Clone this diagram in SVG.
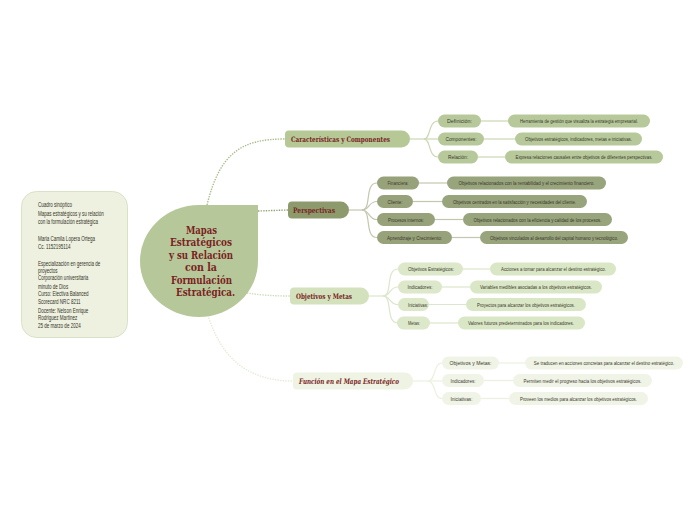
<svg xmlns="http://www.w3.org/2000/svg" width="696" height="520" viewBox="0 0 696 520">
<style>
.sm{font-family:"Liberation Sans",Arial,sans-serif;font-size:5.3px;fill:#3a382c;text-anchor:middle}
.mb{font-family:"DejaVu Serif","Liberation Serif",serif;font-size:7.5px;font-weight:bold;fill:#7a2525}
.ct{font-family:"DejaVu Serif","Liberation Serif",serif;font-size:10.5px;font-weight:bold;fill:#7a2222;text-anchor:middle}
.lb{font-family:"Liberation Sans",Arial,sans-serif;font-size:6.3px;fill:#333328}
.dot{fill:none;stroke-width:1.4;stroke-dasharray:1.4 1.2}
.ln{fill:none;stroke-width:1.2}
</style>
<rect width="696" height="520" fill="#ffffff"/>

<g id="connectors">
  <path class="dot" stroke="#a8bc8a" d="M207,205 C220,152 242,139 285,139"/>
  <path class="dot" stroke="#93a273" d="M258,211 L288,210"/>
  <path class="dot" stroke="#cddcb6" d="M247,293 Q266,296 290,296"/>
  <path class="dot" stroke="#e2ecd3" d="M208,315 C222,362 252,381 293,381"/>
  <g stroke="#cad7b3" class="ln">
    <path d="M410,139 H424"/>
    <path d="M424,139 C431,139 428,121 438,121"/>
    <path d="M424,139 H438"/>
    <path d="M424,139 C431,139 428,157 438,157"/>
    <path d="M481,121 H508"/>
    <path d="M484,139 H515"/>
    <path d="M478,157 H505"/>
  </g>
  <g stroke="#c3c7b0" class="ln">
    <path d="M349,210 H362"/>
    <path d="M362,210 C372,210 364,183 377,183"/>
    <path d="M362,210 C370,210 368,201.5 377,201.5"/>
    <path d="M362,210 C370,210 368,219.5 377,219.5"/>
    <path d="M362,210 C372,210 364,237.5 377,237.5"/>
    <path d="M419,183 H447"/>
    <path d="M413,201.5 H442"/>
    <path d="M435,219.5 H463"/>
    <path d="M452,237.5 H480"/>
  </g>
  <g stroke="#dce6cc" class="ln">
    <path d="M369,296 H383"/>
    <path d="M383,296 C393,296 385,269 398,269"/>
    <path d="M383,296 C391,296 389,287 398,287"/>
    <path d="M383,296 C391,296 389,304.5 398,304.5"/>
    <path d="M383,296 C393,296 385,323 398,323"/>
    <path d="M463,269 H490"/>
    <path d="M442,287 H470"/>
    <path d="M429,304.5 H466"/>
    <path d="M430,323 H458"/>
  </g>
  <g stroke="#ebf0e0" class="ln">
    <path d="M413,381 H428"/>
    <path d="M428,381 C436,381 433,363 442,363"/>
    <path d="M428,381 H442"/>
    <path d="M428,381 C436,381 433,398.5 442,398.5"/>
    <path d="M499,363 H525"/>
    <path d="M484,380.5 H513"/>
    <path d="M481,398.5 H509"/>
  </g>
</g>

<g id="info">
  <rect x="21.5" y="191.5" width="106" height="146" rx="15" fill="#eef1e0" stroke="#d9e2c7"/>
  <g transform="translate(38,0) scale(0.72,1)">
    <text class="lb" x="0" y="207">Cuadro sinóptico</text>
    <text class="lb" x="0" y="216">Mapas estratégicos y su relación</text>
    <text class="lb" x="0" y="224.5">con la formulación estratégica</text>
    <text class="lb" x="0" y="241">Maria Camila Lopera Ortega</text>
    <text class="lb" x="0" y="249.5">Cc. 1152195114</text>
    <text class="lb" x="0" y="266">Especialización en gerencia de</text>
    <text class="lb" x="0" y="273">proyectos</text>
    <text class="lb" x="0" y="280.5">Corporación universitaria</text>
    <text class="lb" x="0" y="289">minuto de Dios</text>
    <text class="lb" x="0" y="296.5">Curso: Electiva Balanced</text>
    <text class="lb" x="0" y="304.5">Scorecard NRC 8211</text>
    <text class="lb" x="0" y="313">Docente: Nelson Enrique</text>
    <text class="lb" x="0" y="320.5">Rodriguez Martinez</text>
    <text class="lb" x="0" y="328.5">25 de marzo de 2024</text>
  </g>
</g>

<g id="central">
  <path d="M258,205 V261 A59,56 0 0 1 199,317 A59,56 0 0 1 140,261 A59,56 0 0 1 199,205 Z" fill="#b6c89a"/>
  <text class="ct" x="201.5" y="233.5" textLength="31" lengthAdjust="spacingAndGlyphs">Mapas</text>
  <text class="ct" x="201" y="246" textLength="62" lengthAdjust="spacingAndGlyphs">Estratégicos</text>
  <text class="ct" x="201" y="258.5" textLength="64" lengthAdjust="spacingAndGlyphs">y su Relación</text>
  <text class="ct" x="201" y="271" textLength="32" lengthAdjust="spacingAndGlyphs">con la</text>
  <text class="ct" x="201.5" y="283.5" textLength="61" lengthAdjust="spacingAndGlyphs">Formulación</text>
  <text class="ct" x="205.5" y="296" textLength="59" lengthAdjust="spacingAndGlyphs">Estratégica.</text>
</g>

<g id="caracteristicas">
  <path d="M289,130.5 H401.5 A8.5,8.5 0 0 1 401.5,147.5 H289 A4,4 0 0 1 285,143.5 V134.5 A4,4 0 0 1 289,130.5 Z" fill="#b5c896"/>
  <text class="mb" x="291" y="141.8" textLength="99" lengthAdjust="spacingAndGlyphs">Características y Componentes</text>
</g>
<g id="c-definicion"><rect x="438" y="114.5" width="43" height="13" rx="6.5" fill="#b7c99b"/><text class="sm" x="459.5" y="123" textLength="25" lengthAdjust="spacingAndGlyphs">Definición:</text></g>
<g id="c-componentes"><rect x="438" y="132.5" width="46" height="13" rx="6.5" fill="#b7c99b"/><text class="sm" x="461" y="141" textLength="31" lengthAdjust="spacingAndGlyphs">Componentes:</text></g>
<g id="c-relacion"><rect x="438" y="150.5" width="40" height="13" rx="6.5" fill="#b7c99b"/><text class="sm" x="458" y="159" textLength="20" lengthAdjust="spacingAndGlyphs">Relación:</text></g>
<g id="c-definicion-t"><rect x="508" y="114.5" width="142" height="13" rx="6.5" fill="#b7c99b"/><text class="sm" x="579" y="123" textLength="118" lengthAdjust="spacingAndGlyphs">Herramienta de gestión que visualiza la estrategia empresarial.</text></g>
<g id="c-componentes-t"><rect x="515" y="132.5" width="127" height="13" rx="6.5" fill="#b7c99b"/><text class="sm" x="578.5" y="141" textLength="107" lengthAdjust="spacingAndGlyphs">Objetivos estratégicos, indicadores, metas e iniciativas.</text></g>
<g id="c-relacion-t"><rect x="505" y="150.5" width="158" height="13" rx="6.5" fill="#b7c99b"/><text class="sm" x="584" y="159" textLength="137" lengthAdjust="spacingAndGlyphs">Expresa relaciones causales entre objetivos de diferentes perspectivas.</text></g>

<g id="perspectivas">
  <path d="M292,201.5 H340.5 A8.5,8.5 0 0 1 340.5,218.5 H292 A4,4 0 0 1 288,214.5 V205.5 A4,4 0 0 1 292,201.5 Z" fill="#8d9a6c"/>
  <text class="mb" x="293" y="212.8" textLength="42" lengthAdjust="spacingAndGlyphs">Perspectivas</text>
</g>
<g id="p-financiera"><rect x="377" y="176.5" width="42" height="13" rx="6.5" fill="#97a27a"/><text class="sm" x="398" y="185" textLength="21" lengthAdjust="spacingAndGlyphs">Financiera:</text></g>
<g id="p-cliente"><rect x="377" y="195" width="36" height="13" rx="6.5" fill="#97a27a"/><text class="sm" x="395" y="203.5" textLength="15" lengthAdjust="spacingAndGlyphs">Cliente:</text></g>
<g id="p-procesos"><rect x="377" y="213" width="58" height="13" rx="6.5" fill="#97a27a"/><text class="sm" x="406" y="221.5" textLength="36" lengthAdjust="spacingAndGlyphs">Procesos internos:</text></g>
<g id="p-aprendizaje"><rect x="377" y="231" width="75" height="13" rx="6.5" fill="#97a27a"/><text class="sm" x="414.5" y="239.5" textLength="55" lengthAdjust="spacingAndGlyphs">Aprendizaje y Crecimiento:</text></g>
<g id="p-financiera-t"><rect x="447" y="176.5" width="159" height="13" rx="6.5" fill="#98a47c"/><text class="sm" x="526.5" y="185" textLength="136" lengthAdjust="spacingAndGlyphs">Objetivos relacionados con la rentabilidad y el crecimiento financiero.</text></g>
<g id="p-cliente-t"><rect x="442" y="195" width="145" height="13" rx="6.5" fill="#98a47c"/><text class="sm" x="514.5" y="203.5" textLength="123" lengthAdjust="spacingAndGlyphs">Objetivos centrados en la satisfacción y necesidades del cliente.</text></g>
<g id="p-procesos-t"><rect x="463" y="213" width="149" height="13" rx="6.5" fill="#98a47c"/><text class="sm" x="537.5" y="221.5" textLength="128" lengthAdjust="spacingAndGlyphs">Objetivos relacionados con la eficiencia y calidad de los procesos.</text></g>
<g id="p-aprendizaje-t"><rect x="480" y="231" width="148" height="13" rx="6.5" fill="#98a47c"/><text class="sm" x="554" y="239.5" textLength="128" lengthAdjust="spacingAndGlyphs">Objetivos vinculados al desarrollo del capital humano y tecnológico.</text></g>

<g id="objetivos">
  <path d="M294,287.5 H360.5 A8.5,8.5 0 0 1 360.5,304.5 H294 A4,4 0 0 1 290,300.5 V291.5 A4,4 0 0 1 294,287.5 Z" fill="#d3e2bd"/>
  <text class="mb" x="296" y="298.8" textLength="56" lengthAdjust="spacingAndGlyphs">Objetivos y Metas</text>
</g>
<g id="o-estrategicos"><rect x="398" y="262.5" width="65" height="13" rx="6.5" fill="#dce8c9"/><text class="sm" x="431" y="271" textLength="46" lengthAdjust="spacingAndGlyphs">Objetivos Estratégicos:</text></g>
<g id="o-indicadores"><rect x="398" y="280.5" width="44" height="13" rx="6.5" fill="#dce8c9"/><text class="sm" x="420" y="289" textLength="25" lengthAdjust="spacingAndGlyphs">Indicadores:</text></g>
<g id="o-iniciativas"><rect x="398" y="298" width="31" height="13" rx="6.5" fill="#dce8c9"/><text class="sm" x="418" y="306.5" textLength="20" lengthAdjust="spacingAndGlyphs">Iniciativas:</text></g>
<g id="o-metas"><rect x="397" y="316.5" width="33" height="13" rx="6.5" fill="#dce8c9"/><text class="sm" x="414" y="325" textLength="12" lengthAdjust="spacingAndGlyphs">Metas:</text></g>
<g id="o-estrategicos-t"><rect x="490" y="262.5" width="126" height="13" rx="6.5" fill="#dae7c6"/><text class="sm" x="553.5" y="271" textLength="105" lengthAdjust="spacingAndGlyphs">Acciones a tomar para alcanzar el destino estratégico.</text></g>
<g id="o-indicadores-t"><rect x="470" y="280.5" width="132" height="13" rx="6.5" fill="#dae7c6"/><text class="sm" x="536" y="289" textLength="112" lengthAdjust="spacingAndGlyphs">Variables medibles asociadas a los objetivos estratégicos.</text></g>
<g id="o-iniciativas-t"><rect x="466" y="298" width="120" height="13" rx="6.5" fill="#dae7c6"/><text class="sm" x="526" y="306.5" textLength="98" lengthAdjust="spacingAndGlyphs">Proyectos para alcanzar los objetivos estratégicos.</text></g>
<g id="o-metas-t"><rect x="458" y="316.5" width="127" height="13" rx="6.5" fill="#dae7c6"/><text class="sm" x="521" y="325" textLength="106" lengthAdjust="spacingAndGlyphs">Valores futuros predeterminados para los indicadores.</text></g>

<g id="funcion">
  <path d="M297,372.5 H404.5 A8.5,8.5 0 0 1 404.5,389.5 H297 A4,4 0 0 1 293,385.5 V376.5 A4,4 0 0 1 297,372.5 Z" fill="#eef3e3"/>
  <text class="mb" x="299" y="383.8" font-style="italic" textLength="100" lengthAdjust="spacingAndGlyphs">Función en el Mapa Estratégico</text>
</g>
<g id="f-objetivos"><rect x="442" y="356.5" width="57" height="13" rx="6.5" fill="#f0f4e6"/><text class="sm" x="470.5" y="365" textLength="42" lengthAdjust="spacingAndGlyphs">Objetivos y Metas:</text></g>
<g id="f-indicadores"><rect x="442" y="374" width="42" height="13" rx="6.5" fill="#f0f4e6"/><text class="sm" x="463" y="382.5" textLength="25" lengthAdjust="spacingAndGlyphs">Indicadores:</text></g>
<g id="f-iniciativas"><rect x="442" y="392" width="39" height="13" rx="6.5" fill="#f0f4e6"/><text class="sm" x="461.5" y="400.5" textLength="22" lengthAdjust="spacingAndGlyphs">Iniciativas:</text></g>
<g id="f-objetivos-t"><rect x="525" y="356.5" width="158" height="13" rx="6.5" fill="#f0f4e6"/><text class="sm" transform="translate(604,365) scale(0.83,1)" x="0" y="0">Se traducen en acciones concretas para alcanzar el destino estratégico.</text></g>
<g id="f-indicadores-t"><rect x="513" y="374" width="139" height="13" rx="6.5" fill="#f0f4e6"/><text class="sm" x="582.5" y="382.5" textLength="118" lengthAdjust="spacingAndGlyphs">Permiten medir el progreso hacia los objetivos estratégicos.</text></g>
<g id="f-iniciativas-t"><rect x="509" y="392" width="139" height="13" rx="6.5" fill="#f0f4e6"/><text class="sm" x="578.5" y="400.5" textLength="117" lengthAdjust="spacingAndGlyphs">Proveen los medios para alcanzar los objetivos estratégicos.</text></g>
</svg>
